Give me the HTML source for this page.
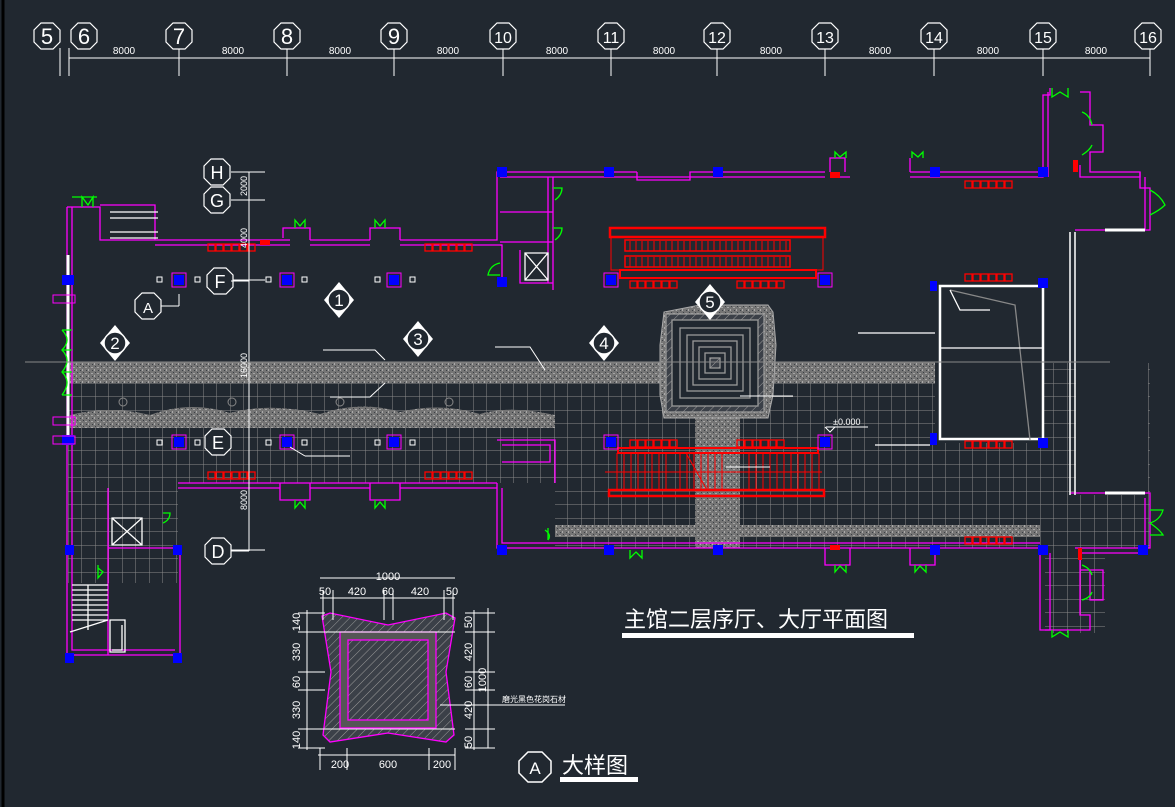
<!DOCTYPE html>
<html><head><meta charset="utf-8"><style>
html,body{margin:0;padding:0;background:#212830;}
svg{display:block;}
text{font-family:"Liberation Sans","Noto Sans CJK SC",sans-serif;}
</style></head><body>
<svg width="1175" height="807" viewBox="0 0 1175 807" xmlns="http://www.w3.org/2000/svg">
<defs>
<pattern id="grid" x="68" y="383" width="13.5" height="13.5" patternUnits="userSpaceOnUse">
<path d="M0 0H13.5M0 0V13.5" stroke="#8a8a8a" stroke-width="1" fill="none"/>
</pattern>
<pattern id="grav" width="6" height="6" patternUnits="userSpaceOnUse">
<rect width="6" height="6" fill="#757575"/><rect x="1" y="1" width="2" height="1" fill="#a5a5a5"/><rect x="4" y="3" width="1" height="2" fill="#aaa"/><rect x="2" y="4" width="1" height="1" fill="#3a3f45"/><rect x="5" y="0" width="1" height="1" fill="#3a3f45"/>
</pattern>
<pattern id="hatch" width="6" height="6" patternUnits="userSpaceOnUse" patternTransform="rotate(45)">
<rect width="6" height="6" fill="#3b4048"/><path d="M0 0V6" stroke="#9a9a9a" stroke-width="1"/>
</pattern>
<g id="seats" fill="none" stroke="#ff0000" stroke-width="1.3">
<rect x="0" y="0" width="7" height="7"/><rect x="8" y="0" width="7" height="7"/><rect x="16" y="0" width="7" height="7"/><rect x="24" y="0" width="7" height="7"/><rect x="32" y="0" width="7" height="7"/><rect x="40" y="0" width="7" height="7"/>
</g>
<g id="col"><rect x="-7" y="-7" width="14" height="14" fill="none" stroke="#ff00ff" stroke-width="1"/><rect x="-5" y="-5" width="10" height="10" fill="#0000ff"/></g>
<g id="bub"><polygon points="-6,-13 6,-13 13,-6 13,6 6,13 -6,13 -13,6 -13,-6" fill="#212830" stroke="#fff" stroke-width="1.2"/></g>
<g id="dia"><polygon points="0,-18 15,0 0,18 -15,0" fill="#fff"/><circle r="11" fill="#212830" stroke="#fff" stroke-width="1.5"/></g>
</defs>
<line x1="3" y1="0" x2="3" y2="807" stroke="#000" stroke-width="3"/>

<g stroke="#fff" stroke-width="1" fill="none">
<line x1="69" y1="58" x2="1150" y2="58"/>
<line x1="60" y1="48" x2="60" y2="76"/><line x1="69" y1="48" x2="69" y2="76"/>
<line x1="179" y1="48" x2="179" y2="76"/><line x1="287" y1="48" x2="287" y2="76"/><line x1="394" y1="48" x2="394" y2="76"/><line x1="503" y1="48" x2="503" y2="76"/><line x1="611" y1="48" x2="611" y2="76"/><line x1="717" y1="48" x2="717" y2="76"/><line x1="825" y1="48" x2="825" y2="76"/><line x1="934" y1="48" x2="934" y2="76"/><line x1="1043" y1="48" x2="1043" y2="76"/><line x1="1150" y1="48" x2="1150" y2="76"/>
</g>
<g font-size="22" fill="#fff" text-anchor="middle">
<use href="#bub" x="47" y="36"/><text x="47" y="44">5</text>
<use href="#bub" x="84" y="36"/><text x="84" y="44">6</text>
<use href="#bub" x="179" y="36"/><text x="179" y="44">7</text>
<use href="#bub" x="287" y="36"/><text x="287" y="44">8</text>
<use href="#bub" x="394" y="36"/><text x="394" y="44">9</text>
<use href="#bub" x="503" y="36"/><text x="503" y="43" font-size="16">10</text>
<use href="#bub" x="611" y="36"/><text x="611" y="43" font-size="16">11</text>
<use href="#bub" x="717" y="36"/><text x="717" y="43" font-size="16">12</text>
<use href="#bub" x="825" y="36"/><text x="825" y="43" font-size="16">13</text>
<use href="#bub" x="934" y="36"/><text x="934" y="43" font-size="16">14</text>
<use href="#bub" x="1043" y="36"/><text x="1043" y="43" font-size="16">15</text>
<use href="#bub" x="1148" y="36"/><text x="1148" y="43" font-size="16">16</text>
</g>
<g font-size="10" fill="#fff" text-anchor="middle">
<text x="124" y="54">8000</text><text x="233" y="54">8000</text><text x="340" y="54">8000</text><text x="448" y="54">8000</text><text x="557" y="54">8000</text><text x="664" y="54">8000</text><text x="771" y="54">8000</text><text x="880" y="54">8000</text><text x="988" y="54">8000</text><text x="1096" y="54">8000</text>
</g>

<rect x="68" y="383" width="1000" height="100" fill="url(#grid)"/>
<rect x="555" y="483" width="513" height="65" fill="url(#grid)"/>
<rect x="68" y="483" width="110" height="100" fill="url(#grid)"/>
<rect x="1040" y="363" width="110" height="185" fill="url(#grid)"/>
<rect x="1045" y="548" width="60" height="85" fill="url(#grid)"/>
<rect x="935" y="283" width="108" height="160" fill="#212830"/>
<rect x="1076" y="230" width="72" height="265" fill="#212830"/>
<rect x="68" y="362" width="867" height="21" fill="url(#grav)"/>
<path d="M70 428 V415 Q110 405 150 415 Q190 400 230 413 Q270 402 320 414 Q360 400 400 412 Q440 402 480 414 Q510 405 555 415 V428Z" fill="url(#grav)"/>
<rect x="555" y="525" width="485" height="12" fill="url(#grav)"/>
<rect x="695" y="410" width="45" height="138" fill="url(#grav)"/>
<g fill="none" stroke="#888"><circle cx="123" cy="402" r="4"/><circle cx="232" cy="402" r="4"/><circle cx="340" cy="402" r="4"/><circle cx="449" cy="402" r="4"/></g>

<path d="M660 345 L664 312 L700 305 L768 305 L773 312 L776 345 L773 395 L768 418 L664 418 L660 395Z" fill="url(#grav)" stroke="#aaa"/>
<g fill="none" stroke="#999" stroke-width="1.3">
<rect x="666" y="314" width="98" height="98" fill="url(#hatch)"/>
<rect x="672" y="320" width="86" height="86" fill="#212830"/>
<rect x="680" y="328" width="70" height="70"/><rect x="687" y="335" width="56" height="56"/><rect x="693" y="341" width="44" height="44"/><rect x="699" y="347" width="32" height="32"/><rect x="705" y="353" width="20" height="20"/><rect x="710" y="358" width="10" height="10" fill="url(#hatch)"/>
</g>
<line x1="740" y1="396" x2="793" y2="396" stroke="#fff"/>

<g stroke="#ff0000" fill="none">
<rect x="610" y="228" width="215" height="9" stroke-width="2.5"/>
<rect x="611" y="237" width="212" height="33"/>
<rect x="620" y="270" width="196" height="8" stroke-width="2"/>
<rect x="625" y="240" width="165" height="11" stroke-width="1.5"/>
<rect x="625" y="256" width="165" height="11" stroke-width="1.5"/>
<path d="M630 241v10M636 241v10M642 241v10M648 241v10M654 241v10M660 241v10M666 241v10M672 241v10M678 241v10M684 241v10M690 241v10M696 241v10M702 241v10M708 241v10M714 241v10M720 241v10M726 241v10M732 241v10M738 241v10M744 241v10M750 241v10M756 241v10M762 241v10M768 241v10M774 241v10M780 241v10M786 241v10"/>
<path d="M630 257v10M636 257v10M642 257v10M648 257v10M654 257v10M660 257v10M666 257v10M672 257v10M678 257v10M684 257v10M690 257v10M696 257v10M702 257v10M708 257v10M714 257v10M720 257v10M726 257v10M732 257v10M738 257v10M744 257v10M750 257v10M756 257v10M762 257v10M768 257v10M774 257v10M780 257v10M786 257v10"/>
<rect x="618" y="448" width="200" height="5" stroke-width="2"/>
<rect x="609" y="490" width="215" height="6" stroke-width="2.5"/>
<path d="M605 472H822M617 453V490M624 453V490M631 453V490M638 453V490M645 453V490M652 453V490M659 453V490M666 453V490M680 453V490M687 453V490M694 453V490M701 453V490M708 453V490M715 453V490M722 453V490M749 453V490M756 453V490M763 453V490M770 453V490M777 453V490M784 453V490M791 453V490M798 453V490M805 453V490M812 453V490M819 453V490"/>
<line x1="686" y1="453" x2="707" y2="490"/>
</g>
<line x1="726" y1="467" x2="770" y2="467" stroke="#fff"/>

<g fill="none" stroke="#ff00ff" stroke-width="1.3">
<path d="M67 207 V655 H180 V548"/><path d="M72 207 V650 H175"/>
<path d="M67 207 H100 V240 H290 M100 205 H155 V240"/>
<path d="M310 240 H370 M400 240 H497 V172 H637 M500 245 H502 V280"/>
<path d="M155 245 H290 M310 245 H370 M400 245 H502"/>
<path d="M500 177 H637 M500 212 H553 M500 242 H553 M548 177 V283 M553 177 V290 M520 250 V283 H553"/>
<path d="M637 172 V180 H690 V172 H825 M637 177 H825"/>
<path d="M845 172 V158 H830 V172 M850 177 H830"/>
<path d="M910 172 V158 M910 177 H1043 V95 H1050 V88 M910 172 H1043 M1048 177 V92"/>
<path d="M1080 92 H1090 V125 H1103 V152 H1090 V172 H1140 V177 H1080 V165"/>
<path d="M1140 172 V188 H1150 V230 H1075 M1145 177 V230"/>
<path d="M1070 493 H1150 V548 H1075 M1145 498 V548"/>
<path d="M497 483 V548 H1040 V630 H1050 V553"/>
<path d="M502 488 V543 H1040"/>
<path d="M178 483 H497 M178 488 H280 M310 488 H370 M400 488 H497"/>
<path d="M497 440 H555 V483 M502 445 H550 V462 H502"/>
<path d="M1080 553 H1140 V548 M1080 553 V570 H1090 V600 H1103 V570 H1090 M1080 553 V615 H1090 V630 H1045"/>
<path d="M280 483 V500 H310 V483 M370 483 V500 H400 V483"/>
<path d="M283 238 V228 H310 V240 M370 240 V228 H400 V240"/>
<path d="M825 548 V565 H850 V548 M910 548 V565 H935 V548"/>
<path d="M108 488 V548 H175 M108 548 V655 M145 548 V548"/>
</g>
<g stroke="#fff" fill="none" stroke-width="1.3">
<line x1="68" y1="255" x2="68" y2="440" stroke-width="3"/>
<path d="M110 212 H158 M110 218 H158 M110 232 H158 M110 238 H158"/>
<path d="M1070 232 V495 M1075 232 V495" stroke-width="1.5"/>
<path d="M1105 230 H1145 M1105 493 H1145" stroke-width="3"/>
<rect x="940" y="286" width="103" height="153" stroke-width="2.5"/>
<path d="M950 290 L1015 305 L1030 440" stroke="#888"/>
<path d="M950 290 L960 310 H990" />
<path d="M858 333 H935 M940 348 H1043 M875 445 H930"/>
<path d="M112 518 H142 V545 H112Z M112 518 L142 545 M142 518 L112 545"/>
<path d="M525 253 H548 V280 H525Z M525 253 L548 280 M548 253 L525 280"/>
<path d="M72 585 H108 M72 590 H108 M72 595 H108 M72 600 H108 M72 605 H108 M72 610 H108 M72 615 H108 M72 620 H108 M88 585 V630 M70 632 L108 620"/>
<path d="M110 620 V652 H125 V620Z M122 625 V650 H112"/>
</g>

<g fill="#0000ff">
<rect x="497" y="167" width="10" height="10"/><rect x="604" y="167" width="10" height="10"/><rect x="713" y="167" width="10" height="10"/><rect x="930" y="167" width="10" height="10"/><rect x="1038" y="167" width="10" height="10"/><rect x="1038" y="278" width="10" height="10"/><rect x="1038" y="438" width="10" height="10"/>
<rect x="62" y="275" width="12" height="10"/><rect x="62" y="435" width="12" height="10"/>
<rect x="65" y="545" width="9" height="10"/><rect x="173" y="545" width="9" height="10"/><rect x="65" y="653" width="9" height="10"/><rect x="173" y="653" width="9" height="10"/>
<rect x="497" y="545" width="10" height="10"/><rect x="604" y="545" width="10" height="10"/><rect x="713" y="545" width="10" height="10"/><rect x="930" y="545" width="10" height="10"/><rect x="1038" y="545" width="10" height="10"/><rect x="1138" y="545" width="10" height="10"/>
<rect x="497" y="277" width="10" height="10"/><rect x="930" y="281" width="7" height="10"/><rect x="930" y="433" width="7" height="12"/>
</g>
<use href="#col" x="179" y="280"/><use href="#col" x="287" y="280"/><use href="#col" x="394" y="280"/><use href="#col" x="611" y="280"/><use href="#col" x="825" y="280"/>
<use href="#col" x="179" y="442"/><use href="#col" x="287" y="442"/><use href="#col" x="394" y="442"/><use href="#col" x="611" y="442"/><use href="#col" x="825" y="442"/>
<g fill="none" stroke="#fff"><rect x="157" y="277" width="5" height="5"/><rect x="195" y="277" width="5" height="5"/><rect x="266" y="277" width="5" height="5"/><rect x="302" y="277" width="5" height="5"/><rect x="375" y="277" width="5" height="5"/><rect x="410" y="277" width="5" height="5"/>
<rect x="157" y="440" width="5" height="5"/><rect x="195" y="440" width="5" height="5"/><rect x="266" y="440" width="5" height="5"/><rect x="302" y="440" width="5" height="5"/><rect x="375" y="440" width="5" height="5"/><rect x="410" y="440" width="5" height="5"/></g>
<g fill="none" stroke="#ff00ff"><rect x="53" y="295" width="22" height="8"/><rect x="53" y="417" width="22" height="8"/><rect x="53" y="436" width="22" height="8"/></g>

<use href="#seats" x="208" y="244"/><use href="#seats" x="425" y="244"/><use href="#seats" x="630" y="281"/><use href="#seats" x="737" y="281"/><use href="#seats" x="965" y="181"/><use href="#seats" x="965" y="274"/>
<use href="#seats" x="208" y="472"/><use href="#seats" x="425" y="472"/><use href="#seats" x="630" y="440"/><use href="#seats" x="737" y="440"/><use href="#seats" x="965" y="441"/><use href="#seats" x="965" y="537"/>

<g fill="none" stroke="#00ff00" stroke-width="1.3">
<path d="M82 207 V197 L88 205 L93 197 V207 M72 197 H97"/>
<path d="M295 228 V220 L300 226 L305 220 V228 M375 228 V220 L380 226 L385 220 V228"/>
<path d="M295 500 V508 L300 502 L305 508 V500 M375 500 V508 L380 502 L385 508 V500"/>
<path d="M630 550 V558 L636 552 L642 558 V550 M835 565 V572 L840 566 L846 572 V565 M915 565 V572 L920 566 L926 572 V565"/>
<path d="M835 158 V152 L840 157 L846 152 V158 M912 158 V152 L918 157 L923 152 V158 M1052 88 V97 L1060 92 L1068 97 V88"/>
<path d="M1082 112 Q1090 115 1092 125 M1082 155 Q1090 150 1092 145 M1150 190 Q1160 195 1165 205 Q1160 210 1150 215"/>
<path d="M553 188 H562 Q562 195 555 200 M553 228 H562 Q562 235 555 240 M500 263 Q490 265 488 275 H500"/>
<path d="M1150 510 H1163 Q1160 520 1150 523 Q1160 530 1163 535 H1150 M1082 565 Q1090 568 1092 575 M1082 600 Q1090 598 1092 592 M1052 630 V637 L1060 632 L1068 637 V630"/>
<path d="M62 330 Q72 340 62 350 Q72 360 62 372 Q72 382 62 395 M62 330 H72 M62 350 H72 M62 372 H72 M62 395 H72"/>
<path d="M98 565 V578 L103 572 L98 568 M548 528 V540 M545 530 Q552 535 548 540"/>
<path d="M163 513 H170 Q170 520 163 523"/>
</g>
<g fill="#ff0000"><rect x="260" y="240" width="10" height="5"/><rect x="830" y="172" width="10" height="6"/><rect x="1073" y="160" width="5" height="12"/><rect x="1078" y="548" width="4" height="12"/><rect x="830" y="545" width="10" height="5"/></g>

<g stroke="#fff" fill="none">
<line x1="249" y1="172" x2="249" y2="551"/>
<line x1="231" y1="172" x2="265" y2="172"/><line x1="231" y1="200" x2="265" y2="200"/><line x1="231" y1="280" x2="265" y2="280"/><line x1="231" y1="550" x2="265" y2="550"/>
<line x1="25" y1="362" x2="1110" y2="362" stroke="#888"/>
<path d="M323 350 H375 L385 360 M495 347 H530 L545 370 M385 383 L370 397 H330 M305 456 H350 M290 447 L305 456"/>
<path d="M826 427 H868 M835 427 L830 432 L825 427"/>
</g>
<g fill="#fff" font-size="9"><text transform="translate(247,196) rotate(-90)">2000</text><text transform="translate(247,248) rotate(-90)">4000</text><text transform="translate(247,378) rotate(-90)">16000</text><text transform="translate(247,510) rotate(-90)">8000</text><text x="833" y="425">±0.000</text></g>
<g font-size="18" fill="#fff" text-anchor="middle">
<use href="#bub" x="217" y="172"/><text x="217" y="179">H</text>
<use href="#bub" x="217" y="200"/><text x="217" y="207">G</text>
<use href="#bub" x="220" y="281"/><text x="220" y="288">F</text>
<use href="#bub" x="218" y="442"/><text x="218" y="449">E</text>
<use href="#bub" x="218" y="551"/><text x="218" y="558">D</text>
<use href="#bub" x="148" y="306"/><text x="148" y="313" font-size="15">A</text>
</g>
<g stroke="#fff"><line x1="231" y1="281" x2="249" y2="281"/><line x1="231" y1="551" x2="249" y2="551"/><line x1="161" y1="306" x2="179" y2="306"/><line x1="179" y1="306" x2="179" y2="294"/></g>
<g font-size="17" fill="#fff" text-anchor="middle">
<use href="#dia" x="339" y="300"/><text x="339" y="306">1</text>
<use href="#dia" x="115" y="343"/><text x="115" y="349">2</text>
<use href="#dia" x="418" y="339"/><text x="418" y="345">3</text>
<use href="#dia" x="604" y="343"/><text x="604" y="349">4</text>
<use href="#dia" x="710" y="302"/><text x="710" y="308">5</text>
</g>

<g>
<path d="M322 616 L330 613 L388 625 L446 613 L455 618 L446 672 L454 735 L446 742 L388 733 L330 742 L323 735 L331 672Z" fill="url(#hatch)" stroke="#ff00ff" stroke-width="1.3"/>
<rect x="340" y="632" width="96" height="96" fill="#555" stroke="#ff00ff" stroke-width="1.3"/>
<rect x="348" y="640" width="80" height="80" fill="url(#hatch)" stroke="#ff00ff" stroke-width="1.3"/>
<g stroke="#fff" fill="none">
<path d="M322 632 H455 M322 729 H455"/>
<path d="M320 598 H455 M320 578 H455 M323 590 V620 M333 590 V620 M384 590 V620 M393 590 V620 M444 590 V620 M453 590 V620"/>
<path d="M307 610 V750 M298 613 H325 M298 632 H325 M298 672 H325 M298 690 H325 M298 729 H325 M298 748 H325"/>
<path d="M318 755 H455 M320 748 V770 M347 748 V770 M429 748 V770 M455 748 V770"/>
<path d="M474 610 V750 M488 608 V748 M465 613 H495 M465 632 H495 M465 672 H495 M465 690 H495 M465 729 H495 M465 748 H495"/>
<path d="M440 705 H565"/>
</g>
<g fill="#fff" font-size="11" text-anchor="middle">
<text x="388" y="580">1000</text>
<text x="325" y="595">50</text><text x="357" y="595">420</text><text x="388" y="595">60</text><text x="420" y="595">420</text><text x="452" y="595">50</text>
<text x="340" y="768">200</text><text x="388" y="768">600</text><text x="442" y="768">200</text>
<text transform="translate(300,622) rotate(-90)">140</text><text transform="translate(300,652) rotate(-90)">330</text><text transform="translate(300,682) rotate(-90)">60</text><text transform="translate(300,710) rotate(-90)">330</text><text transform="translate(300,740) rotate(-90)">140</text>
<text transform="translate(472,622) rotate(-90)">50</text><text transform="translate(472,652) rotate(-90)">420</text><text transform="translate(472,682) rotate(-90)">60</text><text transform="translate(472,710) rotate(-90)">420</text><text transform="translate(472,742) rotate(-90)">50</text>
<text transform="translate(486,680) rotate(-90)">1000</text>
<text x="534" y="702" font-size="8">磨光黑色花岗石材</text>
</g>
</g>
<g>
<polygon points="528,752 542,752 551,761 551,773 542,782 528,782 519,773 519,761" fill="none" stroke="#fff" stroke-width="1.5"/>
<text x="535" y="774" fill="#fff" font-size="17" text-anchor="middle">A</text>
<text x="562" y="773" fill="#fff" font-size="22">大样图</text>
<rect x="560" y="777" width="78" height="5" fill="#fff"/>
<text x="624" y="627" fill="#fff" font-size="22">主馆二层序厅、大厅平面图</text>
<rect x="622" y="633" width="292" height="5" fill="#fff"/>
</g>
</svg>
</body></html>
